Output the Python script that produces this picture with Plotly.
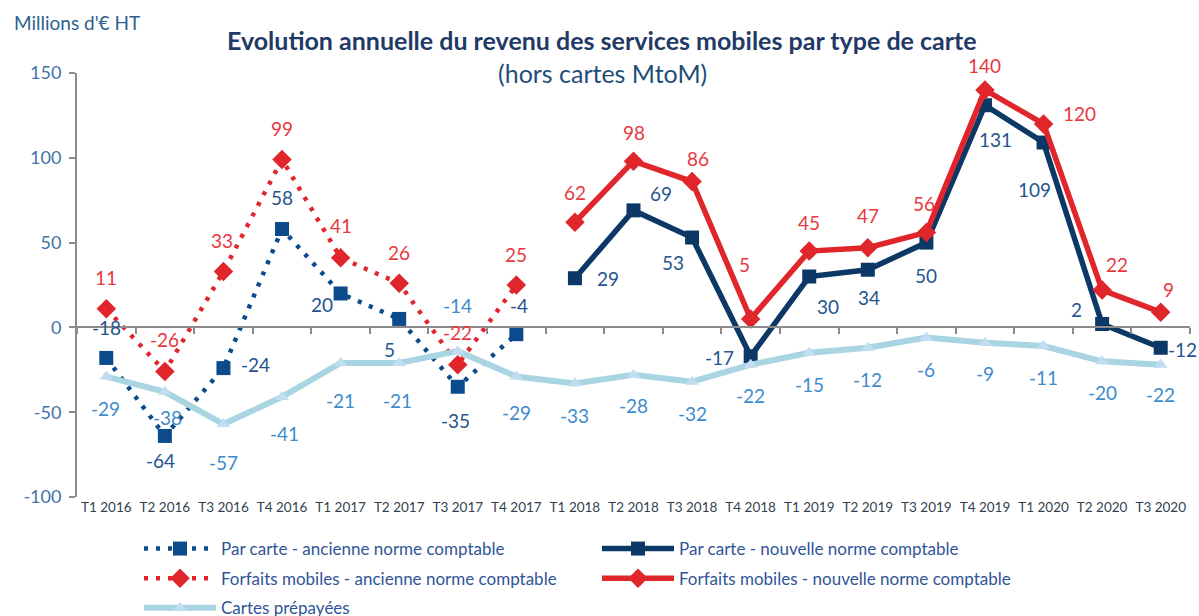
import plotly.graph_objects as go

quarters = ["T1 2016", "T2 2016", "T3 2016", "T4 2016", "T1 2017", "T2 2017", "T3 2017", "T4 2017",
            "T1 2018", "T2 2018", "T3 2018", "T4 2018", "T1 2019", "T2 2019", "T3 2019", "T4 2019",
            "T1 2020", "T2 2020", "T3 2020"]
q_old = quarters[:8]
q_new = quarters[8:]

par_carte_ancienne = [-18, -64, -24, 58, 20, 5, -35, -4]
par_carte_nouvelle = [29, 69, 53, -17, 30, 34, 50, 131, 109, 2, -12]
forfaits_ancienne = [11, -26, 33, 99, 41, 26, -22, 25]
forfaits_nouvelle = [62, 98, 86, 5, 45, 47, 56, 140, 120, 22, 9]
cartes_prepayees = [-29, -38, -57, -41, -21, -21, -14, -29, -33, -28, -32, -22, -15, -12, -6, -9,
                    -11, -20, -22]

y_tickvals = [-100, -50, 0, 50, 100, 150]
y_ticktext = ["-100", "-50", "0", "50", "100", "150"]

# label offsets in pixels (dx, dy) -- styling only
off_pc_anc = [(0, 30), (-4, -25), (32, 4), (0, 32), (-19, -11), (-10, -31), (-2, -34), (3, 29)]
off_pc_new = [(33, 0), (27, 17), (-19, -25), (-31, -1), (19, -30), (1, -28), (0, -33), (11, -34),
              (-9, -47), (-26, 15), (22, -2)]
off_ff_anc = [(0, 31), (0, 32), (-1, 31), (0, 31), (0, 32), (0, 31), (0, 32), (0, 31)]
off_ff_new = [(0, 30), (0, 29), (6, 23), (-6, 54), (0, 29), (0, 32), (-2, 29), (0, 24),
              (36, 10), (15, 26), (8, 23)]
off_prep = [(-1, -32), (3, -26), (0, -38), (2, -37), (0, -37), (-2, -37), (0, 46), (0, -36),
            (0, -32), (0, -31), (0, -32), (0, -31), (0, -32), (0, -32), (0, -32), (0, -31),
            (0, -31), (0, -31), (0, -30)]

C_PC_ANC = "#0B4A8B"
C_PC_NEW = "#0C3866"
C_FF = "#E0262B"
C_PREP_LINE = "#A9D5E3"
C_PREP_MARK = "#C2DDF2"
C_LAB_PC = "#24558E"
C_LAB_FF = "#E8383D"
C_LAB_PREP = "#3D8BCB"
FONT = "Lato"

fig = go.Figure()

# axis line at zero with tick marks between categories
fig.add_trace(go.Scatter(x=quarters, y=[None] * len(quarters), xaxis="x2", yaxis="y",
                         showlegend=False, hoverinfo="skip", mode="lines"))

fig.add_trace(go.Scatter(
    x=q_old, y=par_carte_ancienne, name="Par carte - ancienne norme comptable",
    mode="lines+markers", line=dict(color=C_PC_ANC, width=4.5, dash="4px,8px"),
    marker=dict(symbol="square", size=14, color=C_PC_ANC),
    legend="legend", legendgroup="a", legendrank=1))
fig.add_trace(go.Scatter(
    x=q_new, y=par_carte_nouvelle, name="Par carte - nouvelle norme comptable",
    mode="lines+markers", line=dict(color=C_PC_NEW, width=5.5),
    marker=dict(symbol="square", size=14, color=C_PC_NEW),
    legend="legend2", legendgroup="b", legendrank=1))
fig.add_trace(go.Scatter(
    x=q_old, y=forfaits_ancienne, name="Forfaits mobiles - ancienne norme comptable",
    mode="lines+markers", line=dict(color=C_FF, width=4.5, dash="4px,8px"),
    marker=dict(symbol="diamond", size=15, color=C_FF),
    legend="legend", legendgroup="c", legendrank=2))
fig.add_trace(go.Scatter(
    x=q_new, y=forfaits_nouvelle, name="Forfaits mobiles - nouvelle norme comptable",
    mode="lines+markers", line=dict(color=C_FF, width=5.5),
    marker=dict(symbol="diamond", size=15, color=C_FF),
    legend="legend2", legendgroup="d", legendrank=2))
fig.add_trace(go.Scatter(
    x=quarters, y=cartes_prepayees, name="Cartes prépayées",
    mode="lines+markers", line=dict(color=C_PREP_LINE, width=6),
    marker=dict(symbol="triangle-up", size=12, color=C_PREP_MARK),
    legend="legend", legendgroup="e", legendrank=3))

annotations = []


def add_labels(xs, ys, offs, color):
    for x, y, (dx, dy) in zip(xs, ys, offs):
        annotations.append(dict(x=x, y=y, xref="x", yref="y", text=str(y), showarrow=False,
                                xshift=dx, yshift=dy, font=dict(family=FONT, size=19, color=color)))


add_labels(q_old, par_carte_ancienne, off_pc_anc, C_LAB_PC)
add_labels(q_new, par_carte_nouvelle, off_pc_new, C_LAB_PC)
add_labels(q_old, forfaits_ancienne, off_ff_anc, C_LAB_FF)
add_labels(q_new, forfaits_nouvelle, off_ff_new, C_LAB_FF)
add_labels(quarters, cartes_prepayees, off_prep, C_LAB_PREP)

annotations.append(dict(text="<b>Evolution annuelle du revenu des services mobiles par type de carte</b>",
                        xref="paper", yref="paper", x=0.472, y=1.078, showarrow=False,
                        xanchor="center", yanchor="middle",
                        font=dict(family=FONT, size=25, color="#1F3A66")))
annotations.append(dict(text="(hors cartes MtoM)",
                        xref="paper", yref="paper", x=0.472, y=1.0, showarrow=False,
                        xanchor="center", yanchor="middle",
                        font=dict(family=FONT, size=25, color="#1F4E79")))
annotations.append(dict(text="Millions d'€ HT",
                        xref="paper", yref="paper", x=-0.058, y=1.12, showarrow=False,
                        xanchor="left", yanchor="middle",
                        font=dict(family=FONT, size=19, color="#2F5F8F")))

legend_common = dict(orientation="v", xanchor="left", yanchor="top",
                     xref="container", yref="container", itemwidth=72,
                     tracegroupgap=4.5, bgcolor="rgba(0,0,0,0)",
                     font=dict(family=FONT, size=17, color="#2F5597"))

fig.update_layout(
    width=1199, height=616,
    margin=dict(l=77, r=9, t=73, b=119, autoexpand=False),
    paper_bgcolor="white", plot_bgcolor="white",
    font=dict(family=FONT),
    annotations=annotations,
    xaxis=dict(type="category", categoryorder="array", categoryarray=quarters,
               range=[-0.5, 18.5], showline=False, showgrid=False, zeroline=False,
               ticks="", automargin=False,
               tickfont=dict(family=FONT, size=13.5, color="#333F50")),
    xaxis2=dict(type="category", categoryorder="array", categoryarray=quarters,
                overlaying="x", anchor="free", position=0.4, range=[-0.5, 18.5],
                showline=True, linecolor="#8C8C8C", linewidth=2, ticks="outside",
                ticklen=6, tickwidth=1.5, tickcolor="#8C8C8C", tickson="boundaries",
                showticklabels=False, showgrid=False, zeroline=False),
    yaxis=dict(range=[-100, 150], tickvals=y_tickvals, ticktext=y_ticktext,
               showgrid=False, zeroline=False, automargin=False,
               showline=True, linecolor="#8C8C8C", linewidth=2, ticks="outside",
               ticklen=6, tickcolor="#8C8C8C", tickwidth=1.5, ticklabelstandoff=4,
               tickfont=dict(family=FONT, size=18, color="#4472A8")),
    legend=dict(x=139 / 1199, y=1 - 531 / 616, **legend_common),
    legend2=dict(x=597 / 1199, y=1 - 531 / 616, **legend_common),
)

fig.write_html("out.html", config={"displayModeBar": False},
               post_script="document.body.style.margin='0';")
